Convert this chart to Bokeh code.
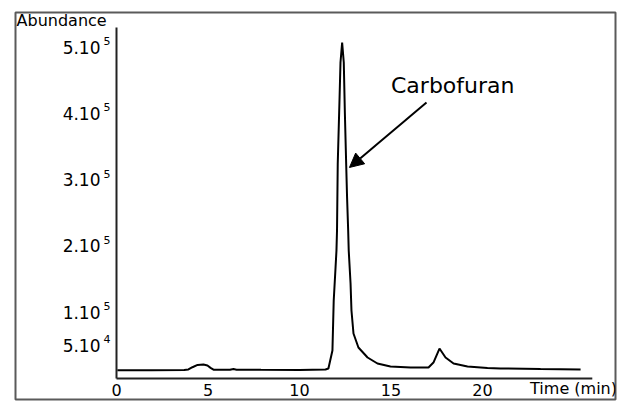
from bokeh.plotting import figure
from bokeh.models import Range1d, Label, Arrow, NormalHead
from bokeh.core.properties import value
from bokeh.embed import file_html
from bokeh.resources import INLINE

# --- data ---
time_min = [0.05, 1.9, 3.7, 3.93, 4.15, 4.43, 4.75, 4.97, 5.14, 5.30, 6.2, 6.39, 6.56,
            7.9, 10.0, 11.42, 11.58, 11.80, 11.87, 11.97, 12.02, 12.05, 12.09, 12.19,
            12.24, 12.33, 12.42, 12.48, 12.55, 12.60, 12.66, 12.69, 12.79, 12.84, 12.95,
            13.22, 13.72, 14.26, 14.97, 16.07, 17.05, 17.32, 17.65, 17.98, 18.42, 19.18,
            20.27, 20.98, 23.17, 25.36]
abundance = [12500, 12500, 12800, 13600, 17000, 20500, 21000, 19500, 16000, 13300, 13300,
             14200, 13300, 13100, 13000, 13600, 15100, 42200, 117600, 167400, 193100,
             223200, 324300, 423800, 476600, 506800, 476600, 399700, 324300, 273000,
             223200, 193100, 143300, 102600, 67900, 46800, 31700, 22600, 18100, 16600,
             16600, 24100, 45200, 31700, 22600, 18100, 15800, 15100, 14300, 13600]

x_ticks = [0, 5, 10, 15, 20]
x_tick_labels = ["0", "5", "10", "15", "20"]
y_ticks = [5e4, 1e5, 2e5, 3e5, 4e5, 5e5]
y_tick_mantissa = ["5.10", "1.10", "2.10", "3.10", "4.10", "5.10"]
y_tick_exponent = ["4", "5", "5", "5", "5", "5"]

x_axis_end = 26.0
y_axis_end = 529400

peak_name = "Carbofuran"
peak_time = 12.73
peak_level = 318300

FONT = "DejaVu Sans"

p = figure(width=620, height=401, output_backend="svg", toolbar_location=None,
           x_range=Range1d(-5.519, 27.268), y_range=Range1d(-31674, 552040),
           x_axis_type=None, y_axis_type=None,
           min_border_left=15, min_border_right=5, min_border_top=12,
           min_border_bottom=2)
p.outline_line_color = "#5a5a5a"
p.outline_line_width = 2
p.grid.visible = False
p.background_fill_color = "white"
p.border_fill_color = "white"

# axis lines
p.segment(x0=[0, 0], y0=[0, 0], x1=[x_axis_end, 0], y1=[0, y_axis_end],
          line_color="#222222", line_width=2)

# trace
p.line(time_min, abundance, line_color="black", line_width=2)

# x tick labels
p.text(x=x_ticks, y=[0] * len(x_ticks), text=x_tick_labels, text_font=value(FONT),
       text_font_size=value("16px"), text_align="center", text_baseline="middle",
       y_offset=11, text_color="black")

# y tick labels (mantissa + raised exponent)
p.text(x=[0] * len(y_ticks), y=y_ticks, text=y_tick_mantissa, text_font=value(FONT),
       text_font_size=value("17px"), text_align="right", text_baseline="middle",
       x_offset=-16, text_color="black")
p.text(x=[0] * len(y_ticks), y=y_ticks, text=y_tick_exponent, text_font=value(FONT),
       text_font_size=value("11px"), text_align="left", text_baseline="middle",
       x_offset=-13, y_offset=-6, text_color="black")

p.add_layout(Label(x=-5.46, y=540000, text="Abundance", text_font=FONT,
                   text_font_size="16px", text_baseline="middle", text_color="black"))
p.add_layout(Label(x=22.6, y=-15100, text="Time (min)", text_font=FONT,
                   text_font_size="16px", text_baseline="middle", text_color="black"))
p.add_layout(Label(x=15.0, y=442000, text=peak_name, text_font=FONT,
                   text_font_size="22px", text_baseline="middle", text_color="black"))
p.add_layout(Arrow(x_start=16.94, y_start=416300, x_end=peak_time, y_end=peak_level,
                   line_color="black", line_width=2,
                   end=NormalHead(size=14, fill_color="black", line_color="black")))

open("out.html", "w").write(file_html(p, INLINE))
